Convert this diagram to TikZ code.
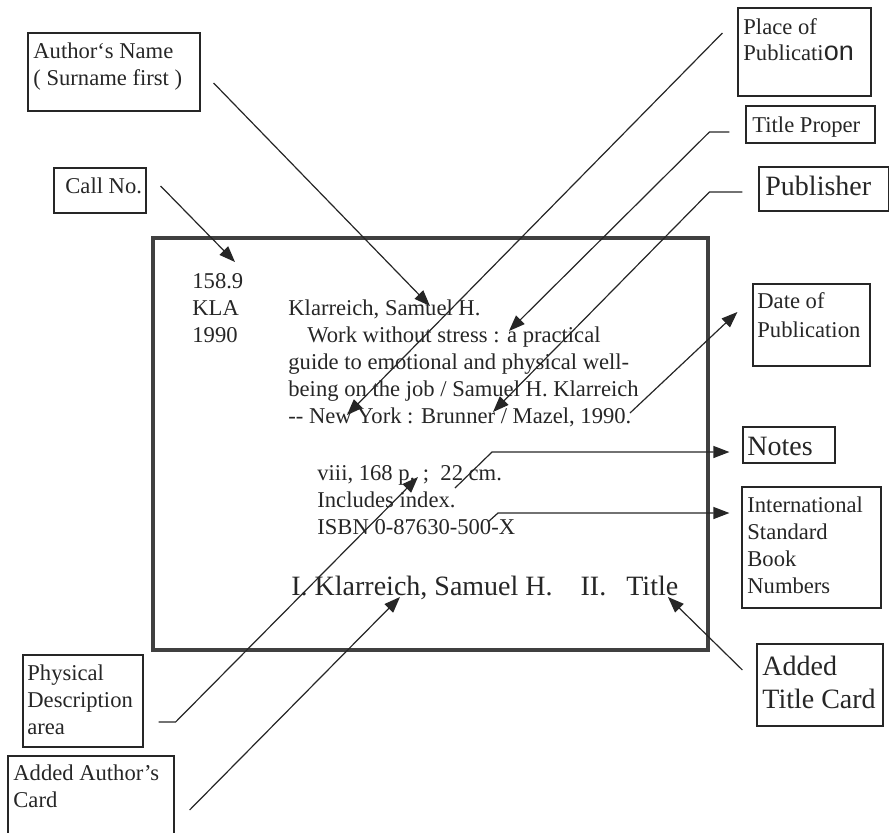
\documentclass[tikz,border=0pt]{standalone}
\usepackage{fontspec}
\setmainfont{Liberation Serif}
\newfontfamily\onfont{Liberation Sans}
\usetikzlibrary{arrows.meta,fit}
\colorlet{ink}{black!85}
\newcommand{\txtsz}{\fontsize{11.3}{13.5}\selectfont}
\newcommand{\bigsz}{\fontsize{14}{16.5}\selectfont}
\tikzset{
	box/.style={draw=ink, line width=.6pt, inner sep=0pt},
	boxtxt/.style={anchor=base west, inner sep=0pt, align=left, text=ink, font=\txtsz},
	arr/.style={draw=ink, line width=.6pt, -{Triangle[length=8pt,width=6pt]}},
}

\begin{document}
\begin{tikzpicture}[x=.5pt,y=-.5pt]
		\useasboundingbox (0,0) rectangle (889,832);
		
		% the card (text nodes sit on the baseline of their last line)
		\node[draw=black!75, line width=2.2pt, inner sep=0pt, fit={(153,238) (708,650)}] (card) {};
		\node[boxtxt] (callnum) at (192,342) {158.9\\KLA\\1990};
		\node[boxtxt] (entry) at (288,423) {Klarreich, Samuel H.\\\hspace*{9.5pt}Work without stress : a practical\\guide to emotional and physical well-\\being on the job / Samuel H. Klarreich\\{-}{-} New York : Brunner / Mazel, 1990.};
		\node[boxtxt] (collation) at (317,534) {viii, 168 p. ;\ \ 22 cm.\\Includes index.\\ISBN 0-87630-500-X};
		\node[boxtxt, font=\bigsz] (tracing) at (291,595) {I. Klarreich, Samuel H.\hspace{14pt}II.\hspace{10pt}Title};
		
		% labels
		\node[box, fit={(28,33) (200,111)}] (author) {};
		\node[boxtxt] (authortxt) at (33,85) {Author`s Name\\( Surname first )};
		\node[box, fit={(54,168) (146,213)}] (callno) {};
		\node[boxtxt] (callnotxt) at (65,193) {Call No.};
		\node[box, fit={(738,8) (871,96)}] (place) {};
		\node[boxtxt, font={\fontsize{11.3}{13}\selectfont}] (placetxt) at (743,60) {Place of\\Publicati{\onfont\fontsize{13.5}{13}\selectfont on}};
		\node[box, fit={(746,106) (875,143)}] (proper) {};
		\node[boxtxt] (propertxt) at (752,132) {Title Proper};
		\node[box, fit={(759,167) (889,211)}] (publisher) {};
		\node[boxtxt, font=\bigsz] (publishertxt) at (765,195) {Publisher};
		\node[box, fit={(753,284) (870,366)}] (date) {};
		\node[boxtxt, font={\fontsize{11.3}{14.5}\selectfont}] (datetxt) at (757,337) {Date of\\Publication};
		\node[box, fit={(743,427) (835,463)}] (notes) {};
		\node[boxtxt, font=\bigsz] (notestxt) at (747,455) {Notes};
		\node[box, fit={(742,487) (881,608)}] (isbn) {};
		\node[boxtxt] (isbntxt) at (747,593) {International\\Standard\\Book\\Numbers};
		\node[box, fit={(757,644) (883,726)}] (addtitle) {};
		\node[boxtxt, font=\bigsz] (addtitletxt) at (762,708) {Added\\Title Card};
		\node[box, fit={(23,655) (143,747)}] (phys) {};
		\node[boxtxt] (physttxt) at (27,734) {Physical\\Description\\area};
		\node[box, fit={(8,756) (174,840)}] (addauth) {};
		\node[boxtxt] (addauthtxt) at (13,807) {Added Author's\\Card};
		
		% points on the card
		\coordinate (t-call) at (235,262);
		\coordinate (t-author) at (430,306);
		\coordinate (t-place) at (347,415);
		\coordinate (t-title) at (509,331);
		\coordinate (t-pub) at (493,412);
		\coordinate (s-date) at (630,413);
		\coordinate (s-notes) at (455,488);
		\coordinate (s-isbn) at (488,522);
		\coordinate (t-phys) at (418,477);
		\coordinate (t-addauth) at (400,597);
		\coordinate (t-addtitle) at (668,597);
		
		\draw[arr] ([shift={(14,-4.5)}]callno.east) -- (t-call);
		\draw[arr] ([shift={(13,11)}]author.east) -- (t-author);
		\draw[arr] ([shift={(-15,-19)}]place.west) -- (t-place);
		\draw[arr] ([shift={(-16,7.5)}]proper.west) -- ++(-20,0) -- (t-title);
		\draw[arr] ([shift={(-16,3)}]publisher.west) -- ++(-33,0) -- (t-pub);
		\draw[arr] (s-date) -- ([shift={(-15,-13)}]date.west);
		\draw[arr] (s-notes) -- ++(37,-36) -- ([shift={(-13,7)}]notes.west);
		\draw[arr] (s-isbn) -- ++(10,-9) -- ([shift={(-12,-34.5)}]isbn.west);
		\draw[arr] ([shift={(15,21)}]phys.east) -- ++(17,0) -- (t-phys);
		\draw[arr] ([shift={(15,12)}]addauth.east) -- (t-addauth);
		\draw[arr] ([shift={(-14,-15)}]addtitle.west) -- (t-addtitle);
\end{tikzpicture}
\end{document}
